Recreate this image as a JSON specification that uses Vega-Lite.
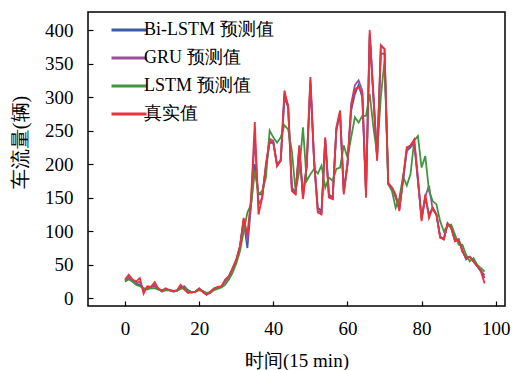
{
  "$schema": "https://vega.github.io/schema/vega-lite/v6.json",
  "autosize": "none",
  "width": 417,
  "height": 294,
  "padding": {"left": 88, "top": 12, "right": 7, "bottom": 64},
  "background": "white",
  "config": {
    "view": {"stroke": "black", "strokeWidth": 1.5},
    "font": "'Liberation Serif', 'Times New Roman', serif"
  },
  "data": {
    "values": [
      {"t":0,"Bi-LSTM 预测值":25,"GRU 预测值":27,"LSTM 预测值":25,"真实值":28},
      {"t":1,"Bi-LSTM 预测值":30,"GRU 预测值":32,"LSTM 预测值":28,"真实值":35},
      {"t":2,"Bi-LSTM 预测值":25,"GRU 预测值":27,"LSTM 预测值":25,"真实值":28},
      {"t":3,"Bi-LSTM 预测值":22,"GRU 预测值":23,"LSTM 预测值":20,"真实值":25},
      {"t":4,"Bi-LSTM 预测值":20,"GRU 预测值":25,"LSTM 预测值":18,"真实值":30},
      {"t":5,"Bi-LSTM 预测值":14,"GRU 预测值":12,"LSTM 预测值":15,"真实值":7},
      {"t":6,"Bi-LSTM 预测值":15,"GRU 预测值":16,"LSTM 预测值":13,"真实值":18},
      {"t":7,"Bi-LSTM 预测值":17,"GRU 预测值":17,"LSTM 预测值":15,"真实值":17},
      {"t":8,"Bi-LSTM 预测值":18,"GRU 预测值":20,"LSTM 预测值":15,"真实值":24},
      {"t":9,"Bi-LSTM 预测值":14,"GRU 预测值":14,"LSTM 预测值":13,"真实值":14},
      {"t":10,"Bi-LSTM 预测值":10,"GRU 预测值":11,"LSTM 预测值":11,"真实值":12},
      {"t":11,"Bi-LSTM 预测值":13,"GRU 预测值":14,"LSTM 预测值":12,"真实值":15},
      {"t":12,"Bi-LSTM 预测值":12,"GRU 预测值":12,"LSTM 预测值":12,"真实值":12},
      {"t":13,"Bi-LSTM 预测值":10,"GRU 预测值":10,"LSTM 预测值":11,"真实值":11},
      {"t":14,"Bi-LSTM 预测值":11,"GRU 预测值":11,"LSTM 预测值":11,"真实值":12},
      {"t":15,"Bi-LSTM 预测值":16,"GRU 预测值":18,"LSTM 预测值":14,"真实值":20},
      {"t":16,"Bi-LSTM 预测值":18,"GRU 预测值":16,"LSTM 预测值":15,"真实值":13},
      {"t":17,"Bi-LSTM 预测值":12,"GRU 预测值":10,"LSTM 预测值":12,"真实值":8},
      {"t":18,"Bi-LSTM 预测值":9,"GRU 预测值":9,"LSTM 预测值":9,"真实值":9},
      {"t":19,"Bi-LSTM 预测值":10,"GRU 预测值":10,"LSTM 预测值":10,"真实值":10},
      {"t":20,"Bi-LSTM 预测值":14,"GRU 预测值":14,"LSTM 预测值":12,"真实值":15},
      {"t":21,"Bi-LSTM 预测值":10,"GRU 预测值":10,"LSTM 预测值":11,"真实值":9},
      {"t":22,"Bi-LSTM 预测值":6,"GRU 预测值":6,"LSTM 预测值":8,"真实值":5},
      {"t":23,"Bi-LSTM 预测值":8,"GRU 预测值":9,"LSTM 预测值":9,"真实值":10},
      {"t":24,"Bi-LSTM 预测值":13,"GRU 预测值":14,"LSTM 预测值":12,"真实值":15},
      {"t":25,"Bi-LSTM 预测值":16,"GRU 预测值":16,"LSTM 预测值":14,"真实值":17},
      {"t":26,"Bi-LSTM 预测值":17,"GRU 预测值":17,"LSTM 预测值":16,"真实值":18},
      {"t":27,"Bi-LSTM 预测值":25,"GRU 预测值":26,"LSTM 预测值":20,"真实值":28},
      {"t":28,"Bi-LSTM 预测值":32,"GRU 预测值":32,"LSTM 预测值":28,"真实值":33},
      {"t":29,"Bi-LSTM 预测值":44,"GRU 预测值":44,"LSTM 预测值":38,"真实值":45},
      {"t":30,"Bi-LSTM 预测值":56,"GRU 预测值":57,"LSTM 预测值":52,"真实值":58},
      {"t":31,"Bi-LSTM 预测值":76,"GRU 预测值":77,"LSTM 预测值":70,"真实值":78},
      {"t":32,"Bi-LSTM 预测值":115,"GRU 预测值":118,"LSTM 预测值":100,"真实值":120},
      {"t":33,"Bi-LSTM 预测值":75,"GRU 预测值":85,"LSTM 预测值":128,"真实值":95},
      {"t":34,"Bi-LSTM 预测值":140,"GRU 预测值":145,"LSTM 预测值":140,"真实值":150},
      {"t":35,"Bi-LSTM 预测值":200,"GRU 预测值":240,"LSTM 预测值":190,"真实值":263},
      {"t":36,"Bi-LSTM 预测值":155,"GRU 预测值":140,"LSTM 预测值":155,"真实值":125},
      {"t":37,"Bi-LSTM 预测值":155,"GRU 预测值":150,"LSTM 预测值":160,"真实值":150},
      {"t":38,"Bi-LSTM 预测值":195,"GRU 预测值":198,"LSTM 预测值":180,"真实值":200},
      {"t":39,"Bi-LSTM 预测值":232,"GRU 预测值":238,"LSTM 预测值":250,"真实值":235},
      {"t":40,"Bi-LSTM 预测值":232,"GRU 预测值":235,"LSTM 预测值":240,"真实值":232},
      {"t":41,"Bi-LSTM 预测值":200,"GRU 预测值":198,"LSTM 预测值":232,"真实值":197},
      {"t":42,"Bi-LSTM 预测值":205,"GRU 预测值":205,"LSTM 预测值":240,"真实值":207},
      {"t":43,"Bi-LSTM 预测值":300,"GRU 预测值":305,"LSTM 预测值":258,"真实值":310},
      {"t":44,"Bi-LSTM 预测值":285,"GRU 预测值":288,"LSTM 预测值":252,"真实值":285},
      {"t":45,"Bi-LSTM 预测值":165,"GRU 预测值":162,"LSTM 预测值":220,"真实值":160},
      {"t":46,"Bi-LSTM 预测值":158,"GRU 预测值":157,"LSTM 预测值":160,"真实值":155},
      {"t":47,"Bi-LSTM 预测值":220,"GRU 预测值":225,"LSTM 预测值":190,"真实值":228},
      {"t":48,"Bi-LSTM 预测值":155,"GRU 预测值":150,"LSTM 预测值":255,"真实值":148},
      {"t":49,"Bi-LSTM 预测值":195,"GRU 预测值":198,"LSTM 预测值":175,"真实值":200},
      {"t":50,"Bi-LSTM 预测值":320,"GRU 预测值":325,"LSTM 预测值":185,"真实值":330},
      {"t":51,"Bi-LSTM 预测值":205,"GRU 预测值":205,"LSTM 预测值":193,"真实值":205},
      {"t":52,"Bi-LSTM 预测值":135,"GRU 预测值":130,"LSTM 预测值":186,"真实值":128},
      {"t":53,"Bi-LSTM 预测值":130,"GRU 预测值":128,"LSTM 预测值":198,"真实值":125},
      {"t":54,"Bi-LSTM 预测值":235,"GRU 预测值":238,"LSTM 预测值":165,"真实值":240},
      {"t":55,"Bi-LSTM 预测值":155,"GRU 预测值":152,"LSTM 预测值":180,"真实值":150},
      {"t":56,"Bi-LSTM 预测值":150,"GRU 预测值":148,"LSTM 预测值":175,"真实值":148},
      {"t":57,"Bi-LSTM 预测值":250,"GRU 预测值":252,"LSTM 预测值":193,"真实值":255},
      {"t":58,"Bi-LSTM 预测值":275,"GRU 预测值":278,"LSTM 预测值":195,"真实值":280},
      {"t":59,"Bi-LSTM 预测值":160,"GRU 预测值":158,"LSTM 预测值":228,"真实值":155},
      {"t":60,"Bi-LSTM 预测值":200,"GRU 预测值":200,"LSTM 预测值":210,"真实值":200},
      {"t":61,"Bi-LSTM 预测值":280,"GRU 预测值":290,"LSTM 预测值":240,"真实值":285},
      {"t":62,"Bi-LSTM 预测值":305,"GRU 预测值":318,"LSTM 预测值":270,"真实值":312},
      {"t":63,"Bi-LSTM 预测值":318,"GRU 预测值":325,"LSTM 预测值":262,"真实值":315},
      {"t":64,"Bi-LSTM 预测值":300,"GRU 预测值":310,"LSTM 预测值":272,"真实值":305},
      {"t":65,"Bi-LSTM 预测值":160,"GRU 预测值":155,"LSTM 预测值":272,"真实值":150},
      {"t":66,"Bi-LSTM 预测值":390,"GRU 预测值":395,"LSTM 预测值":305,"真实值":400},
      {"t":67,"Bi-LSTM 预测值":300,"GRU 预测值":305,"LSTM 预测值":255,"真实值":300},
      {"t":68,"Bi-LSTM 预测值":210,"GRU 预测值":208,"LSTM 预测值":215,"真实值":205},
      {"t":69,"Bi-LSTM 预测值":365,"GRU 预测值":378,"LSTM 预测值":300,"真实值":376},
      {"t":70,"Bi-LSTM 预测值":365,"GRU 预测值":372,"LSTM 预测值":355,"真实值":372},
      {"t":71,"Bi-LSTM 预测值":172,"GRU 预测值":172,"LSTM 预测值":170,"真实值":170},
      {"t":72,"Bi-LSTM 预测值":165,"GRU 预测值":165,"LSTM 预测值":160,"真实值":165},
      {"t":73,"Bi-LSTM 预测值":150,"GRU 预测值":152,"LSTM 预测值":135,"真实值":155},
      {"t":74,"Bi-LSTM 预测值":135,"GRU 预测值":132,"LSTM 预测值":150,"真实值":130},
      {"t":75,"Bi-LSTM 预测值":175,"GRU 预测值":178,"LSTM 预测值":182,"真实值":180},
      {"t":76,"Bi-LSTM 预测值":220,"GRU 预测值":222,"LSTM 预测值":168,"真实值":225},
      {"t":77,"Bi-LSTM 预测值":225,"GRU 预测值":228,"LSTM 预测值":185,"真实值":228},
      {"t":78,"Bi-LSTM 预测值":232,"GRU 预测值":235,"LSTM 预测值":235,"真实值":237},
      {"t":79,"Bi-LSTM 预测值":175,"GRU 预测值":178,"LSTM 预测值":242,"真实值":180},
      {"t":80,"Bi-LSTM 预测值":120,"GRU 预测值":118,"LSTM 预测值":195,"真实值":115},
      {"t":81,"Bi-LSTM 预测值":150,"GRU 预测值":152,"LSTM 预测值":212,"真实值":155},
      {"t":82,"Bi-LSTM 预测值":125,"GRU 预测值":168,"LSTM 预测值":160,"真实值":120},
      {"t":83,"Bi-LSTM 预测值":135,"GRU 预测值":132,"LSTM 预测值":145,"真实值":135},
      {"t":84,"Bi-LSTM 预测值":125,"GRU 预测值":125,"LSTM 预测值":140,"真实值":125},
      {"t":85,"Bi-LSTM 预测值":92,"GRU 预测值":92,"LSTM 预测值":115,"真实值":90},
      {"t":86,"Bi-LSTM 预测值":88,"GRU 预测值":88,"LSTM 预测值":100,"真实值":88},
      {"t":87,"Bi-LSTM 预测值":110,"GRU 预测值":112,"LSTM 预测值":108,"真实值":112},
      {"t":88,"Bi-LSTM 预测值":105,"GRU 预测值":105,"LSTM 预测值":110,"真实值":105},
      {"t":89,"Bi-LSTM 预测值":88,"GRU 预测值":86,"LSTM 预测值":95,"真实值":85},
      {"t":90,"Bi-LSTM 预测值":86,"GRU 预测值":88,"LSTM 预测值":80,"真实值":88},
      {"t":91,"Bi-LSTM 预测值":72,"GRU 预测值":70,"LSTM 预测值":80,"真实值":70},
      {"t":92,"Bi-LSTM 预测值":58,"GRU 预测值":60,"LSTM 预测值":65,"真实值":60},
      {"t":93,"Bi-LSTM 预测值":62,"GRU 预测值":62,"LSTM 预测值":55,"真实值":62},
      {"t":94,"Bi-LSTM 预测值":55,"GRU 预测值":55,"LSTM 预测值":60,"真实值":55},
      {"t":95,"Bi-LSTM 预测值":48,"GRU 预测值":48,"LSTM 预测值":50,"真实值":48},
      {"t":96,"Bi-LSTM 预测值":40,"GRU 预测值":42,"LSTM 预测值":45,"真实值":40},
      {"t":97,"Bi-LSTM 预测值":35,"GRU 预测值":30,"LSTM 预测值":40,"真实值":22}
    ]
  },
  "transform": [
    {"fold": ["Bi-LSTM 预测值", "GRU 预测值", "LSTM 预测值", "真实值"], "as": ["series", "value"]}
  ],
  "mark": {"type": "line", "strokeWidth": 1.8, "clip": true},
  "encoding": {
    "x": {
      "field": "t", "type": "quantitative",
      "scale": {"domain": [-10, 102.5], "nice": false, "zero": false},
      "axis": {
        "title": "时间(15 min)", "values": [0, 20, 40, 60, 80, 100],
        "grid": false, "domain": false, "tickSize": -5, "tickColor": "black", "tickWidth": 1.2,
        "labelPadding": 18, "labelFontSize": 19, "labelColor": "black",
        "labelFont": "'Liberation Serif', 'Times New Roman', serif",
        "titleFontSize": 19, "titleFontWeight": "normal", "titleColor": "black", "titlePadding": 13,
        "titleFont": "'Liberation Serif', 'Times New Roman', serif"
      }
    },
    "y": {
      "field": "value", "type": "quantitative",
      "scale": {"domain": [-11.5, 427], "nice": false, "zero": false},
      "axis": {
        "title": "车流量(辆)", "values": [0, 50, 100, 150, 200, 250, 300, 350, 400],
        "grid": false, "domain": false, "tickSize": -5, "tickColor": "black", "tickWidth": 1.2,
        "labelPadding": 20, "labelFontSize": 19, "labelColor": "black",
        "labelFont": "'Liberation Serif', 'Times New Roman', serif",
        "titleFontSize": 20, "titleFontWeight": "normal", "titleColor": "black", "titlePadding": 14,
        "titleFont": "'Liberation Serif', 'Times New Roman', serif", "titleY": 130
      }
    },
    "color": {
      "field": "series", "type": "nominal",
      "scale": {
        "domain": ["Bi-LSTM 预测值", "GRU 预测值", "LSTM 预测值", "真实值"],
        "range": ["#3b5ba9", "#9b4f9e", "#3f963f", "#e8323c"]
      },
      "legend": {
        "title": null, "orient": "none", "legendX": 22, "legendY": -1,
        "symbolType": "M-1,0H1", "symbolSize": 1225, "symbolStrokeWidth": 3,
        "labelFontSize": 18, "labelColor": "black", "labelOffset": -4, "rowPadding": 0,
        "labelFont": "'Liberation Serif', 'Times New Roman', serif"
      }
    }
  }
}
